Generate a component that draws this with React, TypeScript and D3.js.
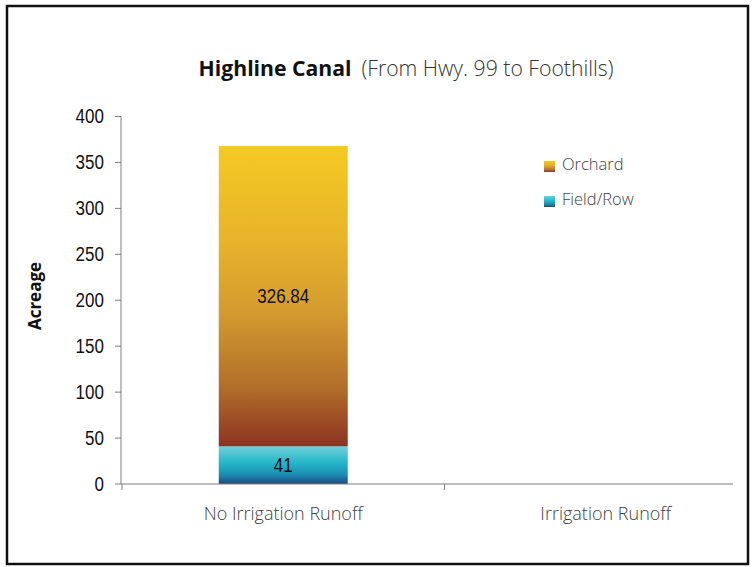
import React from "react";
import * as d3 from "d3";

const categories = ["No Irrigation Runoff", "Irrigation Runoff"];
const seriesNames = ["Field/Row", "Orchard"];
const fieldRow = [41, null];
const orchard = [326.84, null];
const yTicks = [0, 50, 100, 150, 200, 250, 300, 350, 400];

const W = 755;
const H = 567;
const plot = { left: 121, right: 767, top: 116.5, bottom: 484, axisEnd: 733 };

const sansUI = "'Open Sans', 'Noto Sans', sans-serif";
const sansNum = "'Liberation Sans', Arial, sans-serif";

// Condensed numeric label (narrow digits)
function NumText({ x, y, anchor, children }: { x: number; y: number; anchor: "start" | "middle" | "end"; children: React.ReactNode }) {
  return (
    <text transform={`translate(${x},${y}) scale(0.83,1)`} textAnchor={anchor} fontFamily={sansNum} fontSize={20.5} fill="#111">
      {children}
    </text>
  );
}

export default function App() {
  const x = d3.scaleBand<string>().domain(categories).range([plot.left + 1, plot.right]).paddingInner(0).paddingOuter(0);
  const y = d3.scaleLinear().domain([0, 400]).range([plot.bottom, plot.top]);
  const barW = x.bandwidth() * 0.4;

  const stacks = categories.map((c, i) => ({ c, f: fieldRow[i], o: orchard[i] }));

  return (
    <svg width={W} height={H} style={{ position: "absolute", left: 0, top: 0, background: "#fff" }}>
      <defs>
        <linearGradient id="gOrchard" x1="0" y1="0" x2="0" y2="1">
          <stop offset="0" stopColor="#F5C923" />
          <stop offset="0.3" stopColor="#E8B52A" />
          <stop offset="0.55" stopColor="#D49B2F" />
          <stop offset="0.8" stopColor="#B26F2B" />
          <stop offset="1" stopColor="#8C3221" />
        </linearGradient>
        <linearGradient id="gField" x1="0" y1="0" x2="0" y2="1">
          <stop offset="0" stopColor="#72D1DB" />
          <stop offset="0.45" stopColor="#22B5C8" />
          <stop offset="0.75" stopColor="#1C8DB0" />
          <stop offset="1" stopColor="#1A4A84" />
        </linearGradient>
      </defs>
      <rect x={7} y={6} width={741} height={558} fill="#fff" stroke="#111" strokeWidth={2.5} />

      <text x={406} y={76} textAnchor="middle" fontFamily={sansUI} fontSize={21.2} fill="#111">
        <tspan fontWeight="bold">Highline Canal</tspan>
        <tspan dx={10} fontWeight={300} fill="#333">(From Hwy. 99 to Foothills)</tspan>
      </text>

      {/* y axis */}
      <line x1={plot.left} x2={plot.left} y1={plot.top} y2={plot.bottom} stroke="#7f7f7f" />
      {yTicks.map((t) => (
        <g key={t}>
          <line x1={plot.left - 6} x2={plot.left} y1={y(t)} y2={y(t)} stroke="#7f7f7f" />
          <NumText x={104} y={y(t) + 6.5} anchor="end">
            {t}
          </NumText>
        </g>
      ))}
      <text transform="translate(41,296) rotate(-90)" textAnchor="middle" fontFamily={sansUI} fontWeight="bold" fontSize={17} fill="#111">
        Acreage
      </text>

      {/* stacked bars */}
      {stacks.map(({ c, f, o }) => {
        const cx = (x(c) as number) + x.bandwidth() / 2;
        const bx = cx - barW / 2;
        return (
          <g key={c}>
            {f != null && <rect x={bx} y={y(f)} width={barW} height={y(0) - y(f)} fill="url(#gField)" />}
            {f != null && o != null && (
              <rect x={bx} y={y(f + o)} width={barW} height={y(f) - y(f + o)} fill="url(#gOrchard)" />
            )}
            {f != null && (
              <NumText x={cx} y={(y(0) + y(f)) / 2 + 6.5} anchor="middle">
                {f}
              </NumText>
            )}
            {f != null && o != null && (
              <NumText x={cx} y={(y(f) + y(f + o)) / 2 + 6.5} anchor="middle">
                {o}
              </NumText>
            )}
          </g>
        );
      })}

      {/* x axis */}
      <line x1={plot.left} x2={plot.axisEnd} y1={plot.bottom} y2={plot.bottom} stroke="#7f7f7f" />
      {categories.map((c) => (
        <g key={c}>
          <line x1={x(c) as number} x2={x(c) as number} y1={plot.bottom} y2={plot.bottom + 6} stroke="#7f7f7f" />
          <text x={(x(c) as number) + x.bandwidth() / 2} y={520} textAnchor="middle" fontFamily={sansUI} fontWeight={300} fontSize={18} fill="#404040">
            {c}
          </text>
        </g>
      ))}

      {/* legend */}
      {[...seriesNames].reverse().map((s, i) => (
        <g key={s} transform={`translate(544, ${161 + i * 35})`}>
          <rect width={11} height={11} fill={s === "Orchard" ? "url(#gOrchard)" : "url(#gField)"} />
          <text x={18} y={9} fontFamily={sansUI} fontWeight={300} fontSize={16.5} fill="#404040">
            {s}
          </text>
        </g>
      ))}
    </svg>
  );
}
